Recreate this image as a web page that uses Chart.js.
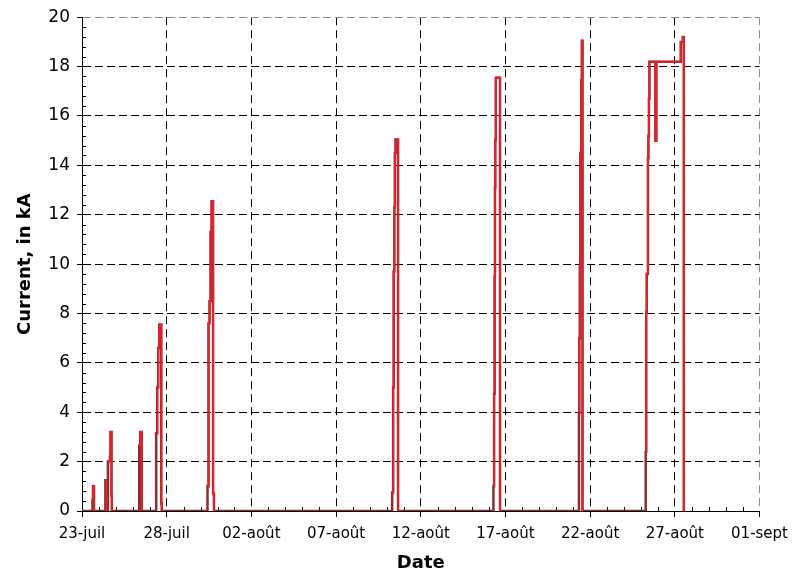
<!DOCTYPE html>
<html>
<head>
<meta charset="utf-8">
<title>Current, in kA</title>
<script src="https://cdn.jsdelivr.net/npm/chart.js@4.4.1/dist/chart.umd.min.js"></script>
<style>
  html, body { margin: 0; padding: 0; background: #fff; }
</style>
</head>
<body>
<canvas id="chartCurrent" width="796" height="575"></canvas>
<script>
// ============================================================
// Current vs date — step trace, days counted from 23-juil
// ============================================================
const dateLabels = ['23-juil','28-juil','02-août','07-août','12-août','17-août','22-août','27-août','01-sept'];

// step trace (value holds until the next day position)
const traceDays = [
  0,    0.62, 0.65, 0.71,
  1.38, 1.44, 1.53, 1.65, 1.68, 1.74, 1.76,
  3.38, 3.44, 3.53,
  4.38, 4.44, 4.50, 4.56, 4.68, 4.71,
  7.41, 7.47, 7.53, 7.59, 7.65, 7.74, 7.79,
  18.31, 18.37, 18.40, 18.44, 18.47, 18.51, 18.66,
  24.29, 24.33, 24.36, 24.38, 24.40, 24.43, 24.68,
  29.34, 29.36, 29.39, 29.42, 29.47, 29.51, 29.55,
  33.28, 33.31, 33.34, 33.41, 33.44, 33.47, 33.50, 33.85, 33.91, 35.35, 35.47, 35.53,
];
const traceKA = [
  0,    0.45, 1.0,  0,
  1.25, 0,    2.0,  2.2,  3.2,  0.6,  0,
  2.65, 3.2,  0,
  3.15, 5.0,  6.6,  7.55, 0.3,  0,
  1.0,  7.6,  8.5,  11.3, 12.55, 0.7, 0,
  0.75, 5.0,  9.7,  12.3, 14.5, 15.05, 0,
  1.0,  4.75, 9.5,  13.1, 15.05, 17.55, 0,
  3.96, 7.0,  9.9,  14.5, 17.45, 19.05, 0,
  2.4,  8.05, 9.6,  14.3, 15.2, 16.7, 18.2, 15.0, 18.2, 19.0, 19.2, 0,
];

const FONT = "'DejaVu Sans', Verdana, sans-serif";

// small inner ticks: every day on x, every 0.4 kA on y
const minorTicks = {
  id: 'minorTicks',
  beforeDatasetsDraw(chart) {
    const { ctx, chartArea: a, scales: { x, y } } = chart;
    ctx.save();
    ctx.strokeStyle = '#000';
    ctx.lineWidth = 1;
    ctx.beginPath();
    for (let d = 1; d < 40; d++) {
      if (d % 5 === 0) continue;
      const px = Math.round(x.getPixelForValue(d)) + 0.5;
      ctx.moveTo(px, a.bottom);
      ctx.lineTo(px, a.bottom - 4);
    }
    for (let k = 1; k < 50; k++) {
      if (k % 5 === 0) continue;
      const py = Math.round(y.getPixelForValue(k * 0.4)) + 0.5;
      ctx.moveTo(a.left, py);
      ctx.lineTo(a.left + 4, py);
    }
    ctx.stroke();
    ctx.restore();
  },
};

const points = traceDays.map((d, i) => ({ x: d, y: traceKA[i] }));

new Chart(document.getElementById('chartCurrent'), {
  type: 'line',
  data: {
    datasets: [
      { label: 'trace', data: points, stepped: 'before', borderColor: '#8A2E2E', borderWidth: 2.5,
        pointRadius: 0, fill: false, order: 2 },
      { label: 'peaks', data: points, stepped: 'before', borderColor: '#E3222B', borderWidth: 1.8,
        pointRadius: 0, fill: false, order: 1,
        segment: { borderColor: c => c.p0.parsed.y === 0 ? 'rgba(0,0,0,0)' : undefined } },
    ],
  },
  options: {
    responsive: false,
    animation: false,
    layout: { padding: { top: 15, right: 33, left: 0, bottom: 0 } },
    plugins: { legend: { display: false }, tooltip: { enabled: false } },
    scales: {
      x: {
        type: 'linear', min: 0, max: 40,
        afterFit: s => { s.height = 64; },
        ticks: {
          stepSize: 5, maxRotation: 0, autoSkip: false, padding: 8, color: '#000',
          font: { family: FONT, size: 15 },
          callback: v => dateLabels[v / 5] || '',
        },
        grid: {
          color: c => c.tick && c.tick.value === 40 ? '#8c8c8c' : '#000',
          tickColor: '#000', tickLength: 6, lineWidth: 1,
        },
        border: { display: true, color: '#000', width: 1, dash: [8, 5] },
        title: { display: true, text: 'Date', color: '#000', padding: { top: 0, bottom: 1 },
          font: { family: FONT, size: 18, weight: 'bold' } },
      },
      y: {
        min: 0, max: 20,
        afterFit: s => { s.width = 82; },
        ticks: { stepSize: 2, padding: 7, color: '#000', font: { family: FONT, size: 17 } },
        grid: {
          color: c => c.tick && c.tick.value === 20 ? '#8c8c8c' : '#000',
          tickColor: '#000', tickLength: 5, lineWidth: 1,
        },
        border: { display: true, color: '#000', width: 1, dash: [8, 4] },
        title: { display: true, text: 'Current, in kA', color: '#000', padding: { top: 15, bottom: 0 },
          font: { family: FONT, size: 18, weight: 'bold' } },
      },
    },
  },
  plugins: [minorTicks],
});
</script>
</body>
</html>
